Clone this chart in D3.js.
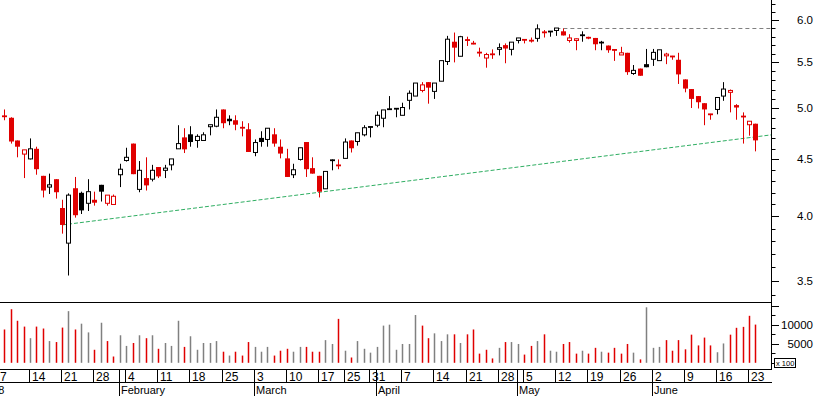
<!DOCTYPE html>
<html><head><meta charset="utf-8">
<script src="https://cdn.jsdelivr.net/npm/d3@7/dist/d3.min.js"></script>
<style>html,body{margin:0;padding:0;background:#fff;overflow:hidden}svg{display:block}</style>
</head><body><svg id="c" width="817" height="396"></svg>
<script>
// ---- data ----
const leadDays = ['2008-01-02','2008-01-03','2008-01-04','2008-01-07'];
const dates = [
'2008-01-08','2008-01-09','2008-01-10','2008-01-11','2008-01-14','2008-01-15','2008-01-16','2008-01-17','2008-01-18','2008-01-21','2008-01-22','2008-01-23','2008-01-24','2008-01-25','2008-01-28','2008-01-29','2008-01-30','2008-01-31',
'2008-02-01','2008-02-04','2008-02-05','2008-02-06','2008-02-07','2008-02-08','2008-02-11','2008-02-12','2008-02-13','2008-02-14','2008-02-15','2008-02-18','2008-02-19','2008-02-20','2008-02-21','2008-02-22','2008-02-25','2008-02-26','2008-02-27','2008-02-28','2008-02-29',
'2008-03-03','2008-03-04','2008-03-05','2008-03-06','2008-03-07','2008-03-10','2008-03-11','2008-03-12','2008-03-13','2008-03-14','2008-03-17','2008-03-18','2008-03-19','2008-03-20','2008-03-25','2008-03-26','2008-03-27','2008-03-28','2008-03-31',
'2008-04-01','2008-04-02','2008-04-03','2008-04-04','2008-04-07','2008-04-08','2008-04-09','2008-04-10','2008-04-11','2008-04-14','2008-04-15','2008-04-16','2008-04-17','2008-04-18','2008-04-21','2008-04-22','2008-04-23','2008-04-24','2008-04-25','2008-04-28','2008-04-29','2008-04-30',
'2008-05-02','2008-05-05','2008-05-06','2008-05-07','2008-05-08','2008-05-09','2008-05-12','2008-05-13','2008-05-14','2008-05-15','2008-05-16','2008-05-19','2008-05-20','2008-05-21','2008-05-22','2008-05-23','2008-05-26','2008-05-27','2008-05-28','2008-05-29','2008-05-30',
'2008-06-02','2008-06-03','2008-06-04','2008-06-05','2008-06-06','2008-06-09','2008-06-10','2008-06-11','2008-06-12','2008-06-13','2008-06-16','2008-06-17','2008-06-18','2008-06-19','2008-06-20','2008-06-23','2008-06-24'];
const priorClose = 4.96;
const open = [
4.925,4.905,4.68,4.55,4.505,4.60,4.35,4.25,4.32,4.07,3.785,4.24,4.20,4.11,4.14,4.27,4.11,4.10,
4.36,4.49,4.65,4.23,4.33,4.32,4.43,4.40,4.45,4.60,4.71,4.74,4.68,4.68,4.815,4.82,4.99,4.895,4.88,4.81,4.79,
4.565,4.705,4.69,4.74,4.62,4.51,4.36,4.50,4.665,4.42,4.35,4.235,4.49,4.45,4.51,4.68,4.67,4.735,4.81,
4.83,4.90,4.995,5.00,4.93,5.085,5.13,5.19,5.28,5.18,5.29,5.51,5.74,5.57,5.765,5.725,5.615,5.55,5.60,5.65,5.70,5.65,
5.755,5.77,5.755,5.78,5.86,5.86,5.875,5.865,5.755,5.755,5.815,5.79,5.785,5.725,5.695,5.65,5.585,5.61,5.375,5.43,5.48,
5.535,5.52,5.575,5.575,5.53,5.31,5.205,5.13,5.055,4.945,4.99,5.13,5.17,5.035,4.925,4.835,4.845];
const high = [
4.99,4.91,4.68,4.59,4.70,4.62,4.35,4.37,4.32,4.14,4.195,4.34,4.21,4.32,4.21,4.27,4.18,4.185,
4.46,4.61,4.65,4.485,4.52,4.45,4.43,4.45,4.505,4.83,4.80,4.82,4.74,4.76,4.835,4.99,4.99,4.93,4.93,4.87,4.85,
4.69,4.77,4.80,4.80,4.69,4.60,4.46,4.61,4.665,4.52,4.35,4.39,4.50,4.50,4.70,4.68,4.755,4.83,4.815,
4.97,4.985,5.13,5.00,5.06,5.19,5.27,5.28,5.28,5.27,5.52,5.81,5.85,5.81,5.80,5.75,5.67,5.61,5.65,5.72,5.72,5.735,
5.785,5.77,5.79,5.95,5.88,5.865,5.905,5.90,5.83,5.78,5.865,5.80,5.785,5.75,5.695,5.65,5.68,5.61,5.47,5.43,5.655,
5.655,5.645,5.61,5.575,5.61,5.31,5.205,5.13,5.055,4.945,5.115,5.28,5.20,5.045,4.96,4.872,4.845];
const low = [
4.88,4.65,4.52,4.33,4.50,4.36,4.16,4.19,4.15,3.86,3.54,3.99,4.02,4.045,4.09,4.125,4.09,4.10,
4.25,4.48,4.365,4.205,4.22,4.30,4.33,4.33,4.40,4.60,4.56,4.62,4.61,4.68,4.73,4.81,4.80,4.83,4.78,4.72,4.57,
4.53,4.62,4.62,4.62,4.51,4.34,4.33,4.49,4.34,4.37,4.16,4.235,4.40,4.41,4.51,4.565,4.63,4.72,4.71,
4.81,4.81,4.99,4.91,4.93,4.99,5.13,5.17,5.05,5.10,5.29,5.47,5.50,5.57,5.69,5.71,5.565,5.44,5.54,5.58,5.49,5.58,
5.72,5.72,5.73,5.74,5.79,5.80,5.81,5.815,5.73,5.64,5.74,5.77,5.64,5.64,5.61,5.517,5.585,5.36,5.36,5.35,5.445,
5.46,5.52,5.48,5.53,5.26,5.17,5.005,5.00,4.83,4.885,4.94,5.08,4.96,4.885,4.65,4.727,4.576];
const close = [
4.915,4.67,4.62,4.59,4.60,4.41,4.22,4.27,4.205,3.93,4.18,4.01,4.05,4.21,4.115,4.21,4.18,4.17,
4.41,4.52,4.365,4.40,4.265,4.40,4.345,4.42,4.505,4.65,4.595,4.665,4.72,4.735,4.835,4.91,4.85,4.87,4.835,4.80,4.57,
4.66,4.665,4.80,4.65,4.555,4.34,4.405,4.61,4.41,4.37,4.21,4.39,4.495,4.44,4.665,4.605,4.755,4.805,4.815,
4.93,4.985,4.99,4.995,5.01,5.16,5.27,5.25,5.22,5.27,5.52,5.77,5.67,5.80,5.755,5.71,5.61,5.59,5.585,5.67,5.66,5.735,
5.785,5.755,5.75,5.895,5.845,5.865,5.905,5.815,5.785,5.775,5.82,5.785,5.71,5.735,5.64,5.637,5.61,5.39,5.41,5.35,5.445,
5.615,5.645,5.595,5.56,5.365,5.21,5.10,5.065,4.99,4.935,5.115,5.205,5.19,5.01,4.91,4.87,4.681];
const volume = [
8800,14150,11100,9560,6500,9560,9050,5740,5480,9300,13640,8800,10330,8030,3440,10580,5740,1660,
7270,4460,5230,7270,6500,7270,3700,5230,4460,11100,4200,7010,3440,5230,5230,5740,2930,1910,2930,1910,5480,
4200,2930,4200,1910,3190,3700,2930,4200,4200,2930,2930,5990,4970,11600,3190,1400,5740,3700,2680,
4200,9820,10070,3440,4970,4970,12620,9820,6500,7780,5740,7520,7520,5230,7520,8800,2420,3440,1150,3950,5480,5480,
4970,2170,4460,5740,7520,3190,2930,4970,5480,2420,3190,2420,3950,2930,2680,3950,2420,4970,2680,900,14660,
3950,4200,5990,3190,5990,3560,7430,4590,6660,4590,2790,5110,7430,9240,9490,12410,10090];
const trendPoints = [{date:'2008-01-21', value:3.93}, {date:'2008-06-24', value:4.715}];
const resistance = {date:'2008-05-12', value:5.90};
const priceLabels = [3.5,4.0,4.5,5.0,5.5,6.0];
const priceMinorTicks = [3.4,3.5,3.6,3.7,3.8,3.9,4.0,4.1,4.2,4.3,4.4,4.5,4.6,4.7,4.8,4.9,5.0,5.1,5.2,5.3,5.4,5.5,5.6,5.7,5.8,5.9,6.0,6.1,6.2];
const volumeLabels = [5000,10000];
const volumeTicks = [0,2500,5000,7500,10000,12500,15000];
const weekTicks = ['2008-01-07','2008-01-14','2008-01-21','2008-01-28','2008-02-04','2008-02-11','2008-02-18','2008-02-25','2008-03-03','2008-03-10','2008-03-17','2008-03-25','2008-03-31','2008-04-07','2008-04-14','2008-04-21','2008-04-28','2008-05-05','2008-05-12','2008-05-19','2008-05-26','2008-06-02','2008-06-09','2008-06-16','2008-06-23'];
const monthTicks = ['2008-01-02','2008-02-01','2008-03-03','2008-04-01','2008-05-02','2008-06-02'];
const monthLabels = ['2008','February','March','April','May','June'];

// ---- drawing ----
const RED = '#e00000', GREY = '#808080', GREEN = '#2fae62';
const FONT = '"Liberation Sans", Arial, sans-serif';
const AX = 771;
const svg = d3.select('#c');
const x = d3.scalePoint().domain(leadDays.concat(dates)).range([-21.4, 755.4]);
const y = d3.scaleLog().domain([3.5, 6.0]).range([281, 20.3]);
const yv = d3.scaleLinear().domain([0, 15000]).range([362.8, 306]);

const rows = dates.map((d, i) => ({d, o: open[i], h: high[i], l: low[i], c: close[i], v: volume[i],
  pc: i ? close[i-1] : priorClose}));

svg.append('defs').append('clipPath').attr('id','pc').append('rect').attr('x',0).attr('y',0).attr('width',AX).attr('height',302);
const pane = svg.append('g').attr('clip-path','url(#pc)');

// trend line (green dashed)
const tx1 = x(trendPoints[0].date), ty1 = y(trendPoints[0].value);
const tx2 = x(trendPoints[1].date), ty2 = y(trendPoints[1].value);
const slope = (ty2 - ty1) / (tx2 - tx1);
pane.append('line').attr('x1', tx1).attr('y1', ty1).attr('x2', AX).attr('y2', ty1 + slope * (AX - tx1))
  .attr('stroke', GREEN).attr('stroke-width', 1).attr('stroke-dasharray', '4,2');
// resistance (grey dashed)
pane.append('line').attr('x1', x(resistance.date)).attr('x2', AX)
  .attr('y1', Math.round(y(resistance.value)) + 0.5).attr('y2', Math.round(y(resistance.value)) + 0.5)
  .attr('stroke', GREY).attr('stroke-width', 1).attr('stroke-dasharray', '4,3');

// candles
rows.forEach(r => {
  const cx = Math.round(x(r.d));
  const col = r.c < r.pc ? RED : '#000';
  const yo = y(r.o), yc = y(r.c);
  const top = Math.min(yo, yc), bot = Math.max(yo, yc);
  pane.append('line').attr('x1', cx + 0.5).attr('x2', cx + 0.5).attr('y1', y(r.h)).attr('y2', y(r.l))
    .attr('stroke', col).attr('stroke-width', 1);
  if (bot - top < 1.6) {
    pane.append('rect').attr('x', cx - 2).attr('width', 5).attr('y', (top + bot) / 2 - 0.9).attr('height', 1.8).attr('fill', col);
  } else if (r.c < r.o) {
    pane.append('rect').attr('x', cx - 2).attr('width', 5).attr('y', top).attr('height', bot - top).attr('fill', col);
  } else {
    pane.append('rect').attr('x', cx - 1.5).attr('width', 4).attr('y', top).attr('height', bot - top)
      .attr('fill', '#fff').attr('stroke', col).attr('stroke-width', 1);
  }
});

// volume bars
svg.append('g').selectAll('rect').data(rows).join('rect')
  .attr('x', r => Math.round(x(r.d)) - 0.25).attr('width', 1.5)
  .attr('y', r => yv(r.v)).attr('height', r => yv(0) - yv(r.v))
  .attr('fill', r => r.c < r.pc ? RED : GREY);

// frame lines
const ln = (x1, y1, x2, y2) => svg.append('line').attr('x1', x1).attr('y1', y1).attr('x2', x2).attr('y2', y2)
  .attr('stroke', '#000').attr('stroke-width', 1);
ln(AX + 0.5, 0, AX + 0.5, 370);
ln(0, 302.5, AX + 1, 302.5);
ln(0, 369.5, AX + 1, 369.5);
ln(0, 382.5, AX + 1, 382.5);

// price axis ticks & labels
priceMinorTicks.forEach(p => {
  const yy = Math.round(y(p)) + 0.5;
  const major = priceLabels.some(q => Math.abs(q - p) < 1e-6);
  ln(AX, yy, AX + (major ? 8 : 4.5), yy);
});
svg.append('g').selectAll('text').data(priceLabels).join('text')
  .attr('x', 813).attr('y', p => y(p) + 4).attr('text-anchor', 'end')
  .attr('font-family', FONT).attr('font-size', 11.5).attr('fill', '#000')
  .text(p => d3.format('.1f')(p));

// volume axis ticks & labels
volumeTicks.forEach(v => {
  const yy = Math.round(yv(v)) + 0.5;
  ln(AX, yy, AX + (v % 5000 === 0 ? 8 : 4.5), yy);
});
svg.append('g').selectAll('text').data(volumeLabels).join('text')
  .attr('x', 813).attr('y', v => yv(v) + 4.5).attr('text-anchor', 'end')
  .attr('font-family', FONT).attr('font-size', 11.5).attr('fill', '#000')
  .text(v => v);
svg.append('rect').attr('x', 774.5).attr('y', 358.5).attr('width', 21).attr('height', 9)
  .attr('fill', '#fff').attr('stroke', '#000').attr('stroke-width', 1);
svg.append('text').attr('x', 776).attr('y', 366).attr('font-family', FONT).attr('font-size', 7.5).text('x 100');

// date axis
const parse = d3.timeParse('%Y-%m-%d');
weekTicks.forEach(d => {
  const xx = Math.round(x(d)) - 0.5;
  ln(xx, 369.5, xx, 382.5);
  svg.append('text').attr('x', xx + 2.5).attr('y', 380.5).attr('font-family', FONT).attr('font-size', 12)
    .text(parse(d).getDate());
});
monthTicks.forEach((d, i) => {
  const xx = Math.round(x(d)) - 0.5;
  ln(xx, 369.5, xx, 396);
  svg.append('text').attr('x', xx + 1.5).attr('y', 394.3).attr('font-family', FONT).attr('font-size', 11)
    .text(monthLabels[i]);
});
</script>
</body></html>
